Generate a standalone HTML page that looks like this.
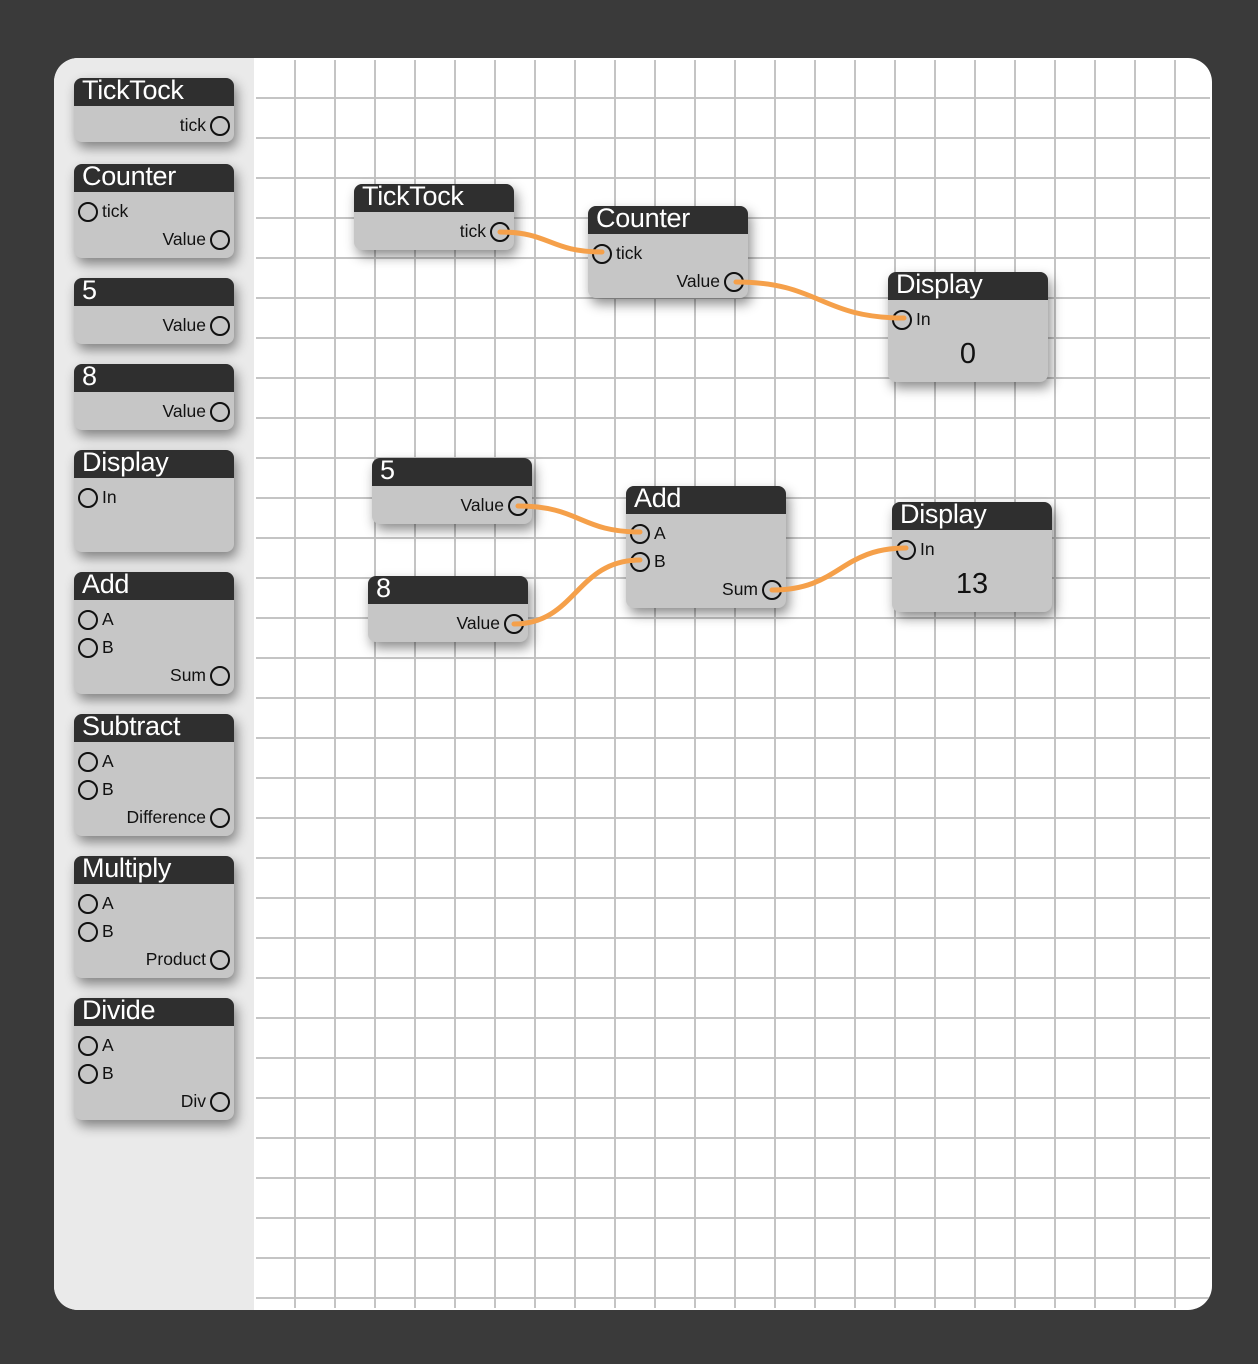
<!DOCTYPE html>
<html><head><meta charset="utf-8"><style>
body{margin:0;width:1258px;height:1364px;background:#3a3a3a;position:relative;overflow:hidden;font-family:"Liberation Sans",Arial,sans-serif}
#panel{position:absolute;left:54px;top:58px;width:1158px;height:1252px;background:#fff;border-radius:24px;overflow:hidden}
#side{position:absolute;left:0;top:0;width:200px;height:100%;background:#eaeaea}
#grid{position:absolute;left:202px;top:2px;width:954px;height:1248px;
background-image:linear-gradient(to right,transparent 38px,#c4c4c4 38px,#c4c4c4 40px),linear-gradient(to bottom,transparent 38px,#c4c4c4 38px,#c4c4c4 40px);
background-size:40px 40px,40px 40px;background-position:0 0,0 -1px}
.n{position:absolute;width:160px;background:#c6c6c6;border-radius:8px;box-shadow:3px 6px 12px rgba(0,0,0,.45)}
.h{height:28px;background:#2f2f2f;border-radius:8px 8px 0 0;color:#fff;font-size:27px;line-height:25px;padding-left:8px;letter-spacing:-0.3px;white-space:nowrap}
.p{position:absolute;width:16px;height:16px;border:2px solid #111;border-radius:50%;box-sizing:content-box}
.l{position:absolute;font-size:17.5px;line-height:20px;color:#111}
.v{position:absolute;left:0;width:160px;text-align:center;font-size:29px;color:#111}
svg{position:absolute;left:0;top:0}
</style></head><body>
<div id="panel"><div id="side"></div><div id="grid"></div></div>

<!-- sidebar -->
<div class="n" style="left:74px;top:78px;height:64px"><div class="h">TickTock</div><span class="l" style="right:28px;top:37px">tick</span><span class="p" style="right:4px;top:38px"></span></div>
<div class="n" style="left:74px;top:164px;height:94px"><div class="h">Counter</div><span class="p" style="left:4px;top:38px"></span><span class="l" style="left:28px;top:37px">tick</span><span class="l" style="right:28px;top:65px">Value</span><span class="p" style="right:4px;top:66px"></span></div>
<div class="n" style="left:74px;top:278px;height:66px"><div class="h">5</div><span class="l" style="right:28px;top:37px">Value</span><span class="p" style="right:4px;top:38px"></span></div>
<div class="n" style="left:74px;top:364px;height:66px"><div class="h">8</div><span class="l" style="right:28px;top:37px">Value</span><span class="p" style="right:4px;top:38px"></span></div>
<div class="n" style="left:74px;top:450px;height:102px"><div class="h">Display</div><span class="p" style="left:4px;top:38px"></span><span class="l" style="left:28px;top:37px">In</span></div>
<div class="n" style="left:74px;top:572px;height:122px"><div class="h">Add</div><span class="p" style="left:4px;top:38px"></span><span class="l" style="left:28px;top:37px">A</span><span class="p" style="left:4px;top:66px"></span><span class="l" style="left:28px;top:65px">B</span><span class="l" style="right:28px;top:93px">Sum</span><span class="p" style="right:4px;top:94px"></span></div>
<div class="n" style="left:74px;top:714px;height:122px"><div class="h">Subtract</div><span class="p" style="left:4px;top:38px"></span><span class="l" style="left:28px;top:37px">A</span><span class="p" style="left:4px;top:66px"></span><span class="l" style="left:28px;top:65px">B</span><span class="l" style="right:28px;top:93px">Difference</span><span class="p" style="right:4px;top:94px"></span></div>
<div class="n" style="left:74px;top:856px;height:122px"><div class="h">Multiply</div><span class="p" style="left:4px;top:38px"></span><span class="l" style="left:28px;top:37px">A</span><span class="p" style="left:4px;top:66px"></span><span class="l" style="left:28px;top:65px">B</span><span class="l" style="right:28px;top:93px">Product</span><span class="p" style="right:4px;top:94px"></span></div>
<div class="n" style="left:74px;top:998px;height:122px"><div class="h">Divide</div><span class="p" style="left:4px;top:38px"></span><span class="l" style="left:28px;top:37px">A</span><span class="p" style="left:4px;top:66px"></span><span class="l" style="left:28px;top:65px">B</span><span class="l" style="right:28px;top:93px">Div</span><span class="p" style="right:4px;top:94px"></span></div>

<!-- canvas nodes -->
<div class="n" style="left:354px;top:184px;height:66px"><div class="h">TickTock</div><span class="l" style="right:28px;top:37px">tick</span><span class="p" style="right:4px;top:38px"></span></div>
<div class="n" style="left:588px;top:206px;height:92px"><div class="h">Counter</div><span class="p" style="left:4px;top:38px"></span><span class="l" style="left:28px;top:37px">tick</span><span class="l" style="right:28px;top:65px">Value</span><span class="p" style="right:4px;top:66px"></span></div>
<div class="n" style="left:888px;top:272px;height:110px"><div class="h">Display</div><span class="p" style="left:4px;top:38px"></span><span class="l" style="left:28px;top:37px">In</span><div class="v" style="top:66px">0</div></div>
<div class="n" style="left:372px;top:458px;height:66px"><div class="h">5</div><span class="l" style="right:28px;top:37px">Value</span><span class="p" style="right:4px;top:38px"></span></div>
<div class="n" style="left:626px;top:486px;height:122px"><div class="h">Add</div><span class="p" style="left:4px;top:38px"></span><span class="l" style="left:28px;top:37px">A</span><span class="p" style="left:4px;top:66px"></span><span class="l" style="left:28px;top:65px">B</span><span class="l" style="right:28px;top:93px">Sum</span><span class="p" style="right:4px;top:94px"></span></div>
<div class="n" style="left:368px;top:576px;height:66px"><div class="h">8</div><span class="l" style="right:28px;top:37px">Value</span><span class="p" style="right:4px;top:38px"></span></div>
<div class="n" style="left:892px;top:502px;height:110px"><div class="h">Display</div><span class="p" style="left:4px;top:38px"></span><span class="l" style="left:28px;top:37px">In</span><div class="v" style="top:66px">13</div></div>

<svg width="1258" height="1364"><g fill="none" stroke="#f5a04a" stroke-width="5" stroke-linecap="round">
<path d="M500 232 C550 232 550 252 602 252"/>
<path d="M736 282 C820 282 820 318 904 318"/>
<path d="M518 506 C580 506 580 532 640 532"/>
<path d="M514 624 C576 624 576 560 640 560"/>
<path d="M772 590 C840 590 840 548 906 548"/>
</g></svg>
</body></html>
